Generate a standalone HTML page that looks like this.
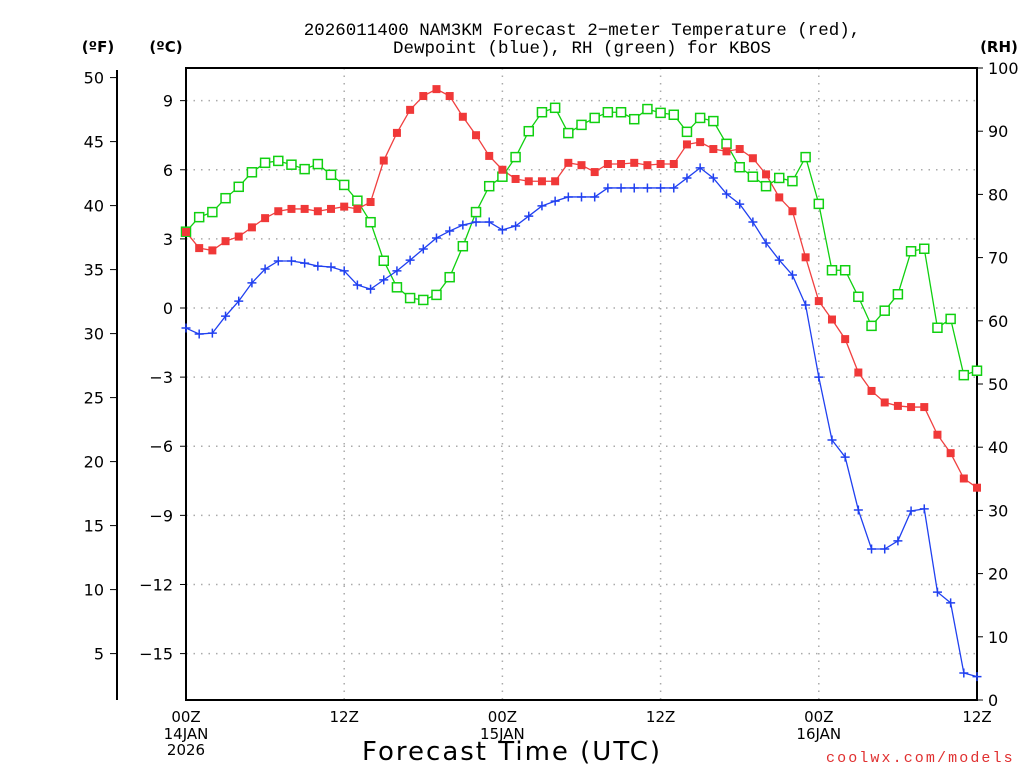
<!DOCTYPE html>
<html><head><meta charset="utf-8"><style>
body{margin:0;background:#fff;}
svg{display:block;font-family:"DejaVu Sans","Liberation Sans",sans-serif;}
</style></head><body>
<svg id="c" width="1024" height="768" viewBox="0 0 1024 768">
<text x="582" y="35" text-anchor="middle" font-size="17.5" font-family="Liberation Mono, monospace">2026011400 NAM3KM Forecast 2−meter Temperature (red),</text>
<text x="582" y="53" text-anchor="middle" font-size="17.5" font-family="Liberation Mono, monospace">Dewpoint (blue), RH (green) for KBOS</text>
<text x="98" y="52" text-anchor="middle" font-size="15" font-weight="bold">(ºF)</text>
<text x="166" y="52" text-anchor="middle" font-size="15" font-weight="bold">(ºC)</text>
<text x="999" y="52" text-anchor="middle" font-size="15" font-weight="bold">(RH)</text>
<text x="512" y="760" text-anchor="middle" font-size="26" letter-spacing="2">Forecast Time (UTC)</text>
<text x="826" y="762" font-size="15" font-family="Liberation Mono, monospace" letter-spacing="2.1" fill="#e03030">coolwx.com/models</text>
<g id="grid"></g><g id="axes"></g><g id="series"></g>
</svg>
<script>
const hours=[];for(let h=0;h<=60;h++)hours.push(h);
const tempC=[3.3,2.6,2.5,2.9,3.1,3.5,3.9,4.2,4.3,4.3,4.2,4.3,4.4,4.3,4.6,6.4,7.6,8.6,9.2,9.5,9.2,8.3,7.5,6.6,6.0,5.6,5.5,5.5,5.5,6.3,6.2,5.9,6.25,6.25,6.3,6.2,6.25,6.25,7.1,7.2,6.9,6.8,6.9,6.5,5.8,4.8,4.2,2.2,0.3,-0.5,-1.35,-2.8,-3.6,-4.1,-4.25,-4.3,-4.3,-5.5,-6.3,-7.4,-7.8];
const dewC=[-0.87,-1.13,-1.09,-0.35,0.3,1.09,1.69,2.04,2.04,1.95,1.82,1.78,1.61,1.0,0.82,1.22,1.61,2.08,2.56,3.04,3.34,3.6,3.73,3.73,3.39,3.56,3.99,4.43,4.64,4.82,4.82,4.82,5.21,5.21,5.21,5.21,5.21,5.21,5.64,6.08,5.64,4.95,4.51,3.73,2.82,2.08,1.43,0.13,-3.0,-5.73,-6.47,-8.77,-10.46,-10.46,-10.11,-8.81,-8.72,-12.33,-12.8,-15.84,-16.0];
const rh=[74.1,76.4,77.2,79.4,81.2,83.5,85.0,85.3,84.7,84.0,84.8,83.1,81.5,79.0,75.6,69.5,65.3,63.6,63.3,64.1,66.9,71.8,77.2,81.3,82.8,85.9,90.0,93.0,93.7,89.7,91.0,92.1,93.0,93.0,91.9,93.5,92.9,92.6,89.9,92.1,91.6,88.0,84.3,82.8,81.3,82.6,82.1,85.9,78.5,68.0,68.0,63.8,59.2,61.6,64.2,71.0,71.4,58.9,60.3,51.4,52.1];
const cTicks=[9,6,3,0,-3,-6,-9,-12,-15];
const cTickLabels=["9","6","3","0","−3","−6","−9","−12","−15"];
const fTicks=[50,45,40,35,30,25,20,15,10,5];
const rhTicks=[100,90,80,70,60,50,40,30,20,10,0];
const xTicks=[0,12,24,36,48,60];
const xTickLabels=["00Z","12Z","00Z","12Z","00Z","12Z"];
const xDateLabels=[[0,"14JAN"],[24,"15JAN"],[48,"16JAN"]];

const X0=186,X1=977,Y0=68,Y1=700;
const xs=h=>X0+(X1-X0)*h/60;
const yc=c=>308-23.04*c;
const yf=f=>yc((f-32)*5/9);
const yr=r=>Y1-(Y1-Y0)*r/100;
const NS="http://www.w3.org/2000/svg";
function mk(tag,attrs,parent){const e=document.createElementNS(NS,tag);for(const k in attrs)e.setAttribute(k,attrs[k]);parent.appendChild(e);return e;}
const grid=document.getElementById('grid'),axes=document.getElementById('axes'),ser=document.getElementById('series');

cTicks.forEach((c,i)=>{
 const l=mk('line',{x1:X0,x2:X1,y1:yc(c),y2:yc(c),stroke:'#aaa','stroke-width':1.5,'stroke-dasharray':'1.5 6'},grid);
 
 
 const t=mk('line',{x1:X0-6,x2:X0,y1:yc(c),y2:yc(c),stroke:'#000','stroke-width':1},axes);
 
 
 const tx=mk('text',{x:173,y:yc(c)+6,'text-anchor':'end','font-size':16},axes);tx.textContent=cTickLabels[i];
 
 
});
xTicks.forEach((h,i)=>{
 if(h>0&&h<60){const l=mk('line',{x1:xs(h),x2:xs(h),y1:Y0,y2:Y1,stroke:'#aaa','stroke-width':1.5,'stroke-dasharray':'1.5 6'},grid);
 
 }
 const tx=mk('text',{x:xs(h),y:722,'text-anchor':'middle','font-size':15},axes);tx.textContent=xTickLabels[i];
 
 
});
xDateLabels.forEach(d=>{
 const tx=mk('text',{x:xs(d[0]),y:739,'text-anchor':'middle','font-size':15},axes);tx.textContent=d[1];
 
 
});
const yl=mk('text',{x:xs(0),y:755,'text-anchor':'middle','font-size':15},axes);yl.textContent="2026";


fTicks.forEach(f=>{
 const t=mk('line',{x1:110,x2:117,y1:yf(f),y2:yf(f),stroke:'#000','stroke-width':1},axes);
 
 
 const tx=mk('text',{x:104,y:yf(f)+6,'text-anchor':'end','font-size':16},axes);tx.textContent=f;
 
 
});
const fa=mk('line',{x1:117,x2:117,y1:70,y2:700,stroke:'#000','stroke-width':2},axes);


rhTicks.forEach(r=>{
 const t=mk('line',{x1:X1,x2:X1+6,y1:yr(r),y2:yr(r),stroke:'#000','stroke-width':1},axes);
 
 
 const tx=mk('text',{x:988,y:yr(r)+6,'font-size':16},axes);tx.textContent=r;
 
 
});
const fr=mk('rect',{x:X0,y:Y0,width:X1-X0,height:Y1-Y0,fill:'none',stroke:'#000','stroke-width':2},axes);



function line(vals,yfn,col,name){
 const p=mk('polyline',{points:vals.map((v,i)=>xs(hours[i])+','+yfn(v)).join(' '),fill:'none',stroke:col,'stroke-width':1.3},ser);
 
 
}
line(rh,yr,'#10d010','rh-line');
line(dewC,yc,'#2040f0','dewpoint-line');
line(tempC,yc,'#f04040','temperature-line');
rh.forEach((v,i)=>{const m=mk('rect',{x:xs(hours[i])-4.5,y:yr(v)-4.5,width:9,height:9,fill:'#fff',stroke:'#10d010','stroke-width':1.5},ser);
 
 });
dewC.forEach((v,i)=>{const x=xs(hours[i]),y=yc(v);
 const m=mk('path',{d:`M${x-4.5},${y}H${x+4.5}M${x},${y-4.5}V${y+4.5}`,stroke:'#2040f0','stroke-width':1.5},ser);
 
 });
tempC.forEach((v,i)=>{const m=mk('rect',{x:xs(hours[i])-4,y:yc(v)-4,width:8,height:8,fill:'#f03838'},ser);
 
 });
</script>
</body></html>
